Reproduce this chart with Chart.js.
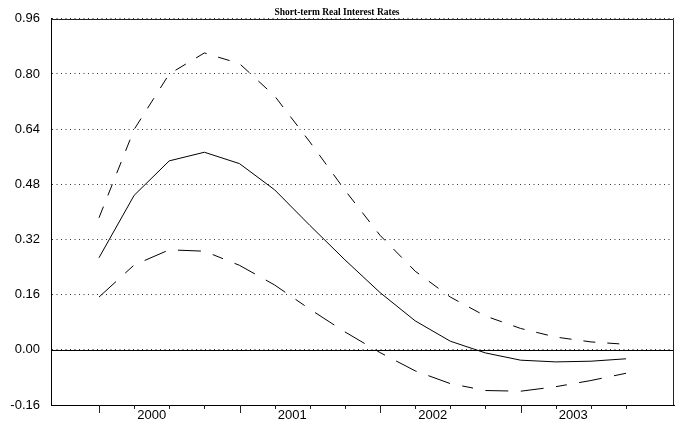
<!DOCTYPE html>
<html>
<head>
<meta charset="utf-8">
<script src="https://cdn.jsdelivr.net/npm/chart.js@4/dist/chart.umd.min.js"></script>
<style>
  html, body { margin: 0; padding: 0; background: #ffffff; }
  canvas { display: block; }
</style>
</head>
<body>
<canvas id="c" width="681" height="428"></canvas>
<script>
// ---- data ----
const quarters = ['2000Q1','2000Q2','2000Q3','2000Q4','2001Q1','2001Q2','2001Q3','2001Q4',
                  '2002Q1','2002Q2','2002Q3','2002Q4','2003Q1','2003Q2','2003Q3','2003Q4'];
const yearLabels = ['2000','2001','2002','2003'];
const central = [0.267, 0.448, 0.548, 0.573, 0.540, 0.464, 0.361, 0.261,
                 0.166, 0.084, 0.025, -0.009, -0.030, -0.035, -0.033, -0.026];
const upper   = [0.383, 0.639, 0.800, 0.861, 0.830, 0.736, 0.603, 0.463,
                 0.332, 0.228, 0.153, 0.098, 0.062, 0.037, 0.023, 0.016];
const lower   = [0.153, 0.246, 0.290, 0.286, 0.245, 0.188, 0.118, 0.052,
                 -0.008, -0.061, -0.098, -0.118, -0.120, -0.107, -0.089, -0.068];
const yTicks  = [-0.16, 0.00, 0.16, 0.32, 0.48, 0.64, 0.80, 0.96];
const titleText = 'Short-term Real Interest Rates';

const toPts = arr => arr.map((v, i) => ({ x: i, y: v }));

const framePlugin = {
  id: 'frame',
  beforeDatasetsDraw(chart) {
    const { ctx, chartArea: a, scales } = chart;
    const y0 = Math.round(scales.y.getPixelForValue(0)) + 0.5;
    ctx.save();
    ctx.strokeStyle = '#000';
    ctx.lineWidth = 1;
    ctx.beginPath();
    ctx.moveTo(a.left, y0);
    ctx.lineTo(a.right, y0);
    ctx.stroke();
    ctx.restore();
  },
  afterDraw(chart) {
    const { ctx, chartArea: a, scales } = chart;
    ctx.save();
    ctx.strokeStyle = '#222';
    ctx.lineWidth = 1;
    ctx.beginPath();
    ctx.moveTo(a.left, Math.round(a.top) + 0.5);
    ctx.lineTo(Math.round(a.right) - 0.5, Math.round(a.top) + 0.5);
    ctx.lineTo(Math.round(a.right) - 0.5, a.bottom);
    ctx.stroke();
    // quarter tick marks below the x axis (longer at each year start)
    const yb = Math.round(a.bottom);
    ctx.strokeStyle = '#222';
    ctx.beginPath();
    quarters.forEach((q, i) => {
      const px = Math.round(scales.x.getPixelForValue(i)) + 0.5;
      const len = (i % 4 === 0) ? 8 : 4;
      ctx.moveTo(px, yb);
      ctx.lineTo(px, yb + len);
    });
    ctx.stroke();
    ctx.restore();
  }
};

new Chart(document.getElementById('c'), {
  type: 'line',
  data: {
    datasets: [
      { label: 'Central', data: toPts(central), borderColor: '#000', borderWidth: 1,
        pointRadius: 0, tension: 0, fill: false },
      { label: 'Upper', data: toPts(upper), borderColor: '#000', borderWidth: 1,
        borderDash: [12, 12], pointRadius: 0, tension: 0, fill: false },
      { label: 'Lower', data: toPts(lower), borderColor: '#000', borderWidth: 1,
        borderDash: [23, 12.5, 23, 12.5, 11, 12.5], borderDashOffset: 35.5,
        pointRadius: 0, tension: 0, fill: false }
    ]
  },
  options: {
    responsive: false,
    animation: false,
    devicePixelRatio: 1,
    layout: { padding: { left: 0, right: 7, top: 0, bottom: 0 } },
    plugins: {
      legend: { display: false },
      tooltip: { enabled: false },
      title: {
        display: true,
        text: titleText,
        color: '#000',
        font: { family: '"Liberation Serif", "Times New Roman", serif', size: 9.5, weight: 'bold', lineHeight: 1.2 },
        padding: { top: 6, bottom: 0.6 }
      }
    },
    scales: {
      x: {
        type: 'linear',
        min: -1.366,
        max: 16.366,
        afterBuildTicks: s => { s.ticks = quarters.map((q, i) => ({ value: i })); },
        afterFit: s => { s.height = 23; },
        ticks: {
          autoSkip: false,
          maxRotation: 0,
          minRotation: 0,
          padding: 3,
          labelOffset: 52.7,
          color: '#000',
          font: { family: '"Liberation Sans", Arial, sans-serif', size: 13 },
          callback: v => (v % 4 === 0 ? yearLabels[v / 4] : '')
        },
        grid: {
          drawOnChartArea: false,
          drawTicks: false
        },
        border: { display: true, color: '#000', width: 1 }
      },
      y: {
        type: 'linear',
        min: -0.16,
        max: 0.96,
        afterBuildTicks: s => { s.ticks = yTicks.map(v => ({ value: v })); },
        afterFit: s => { s.width = 51; },
        ticks: {
          padding: 11,
          color: '#000',
          font: { family: '"Liberation Sans", Arial, sans-serif', size: 13 },
          callback: v => Number(v).toFixed(2)
        },
        grid: {
          drawTicks: false,
          color: '#333',
          lineWidth: 1
        },
        border: { display: true, color: '#000', width: 1, dash: [1, 3.5] }
      }
    }
  },
  plugins: [framePlugin]
});
</script>
</body>
</html>
